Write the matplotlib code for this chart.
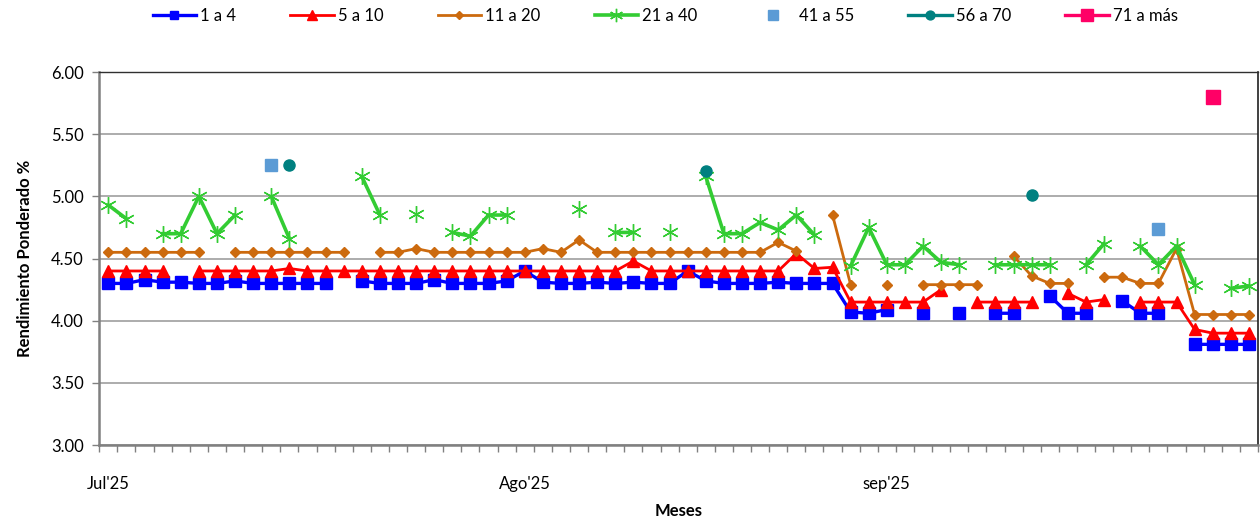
import matplotlib
matplotlib.use("Agg")
import matplotlib.pyplot as plt
import numpy as np

plt.rcParams["font.family"] = ["Lato", "DejaVu Sans"]

nan = np.nan

# 64 business days, Jul 1 to end of Sep 2025
month_labels = ["Jul'25", "Ago'25", "sep'25"]
month_pos = [0, 23, 43]

r_1a4 = [4.30, 4.30, 4.33, 4.31, 4.31, 4.30, 4.30, 4.32, 4.30, 4.30,
         4.30, 4.30, 4.30, nan, 4.32, 4.30, 4.30, 4.30, 4.33, 4.30,
         4.30, 4.30, 4.32, 4.40, 4.31, 4.30, 4.30, 4.31, 4.30, 4.31,
         4.30, 4.30, 4.40, 4.32, 4.30, 4.30, 4.30, 4.31, 4.30, 4.30,
         4.30, 4.07, 4.06, 4.09, nan, 4.06, nan, 4.06, nan, 4.06,
         4.06, nan, 4.20, 4.06, 4.06, nan, 4.16, 4.06, 4.06, nan,
         3.81, 3.81, 3.81, 3.81]

r_5a10 = [4.40, 4.40, 4.40, 4.40, nan, 4.40, 4.40, 4.40, 4.40, 4.40,
          4.42, 4.40, 4.40, 4.40, 4.40, 4.40, 4.40, 4.40, 4.40, 4.40,
          4.40, 4.40, 4.40, 4.40, 4.40, 4.40, 4.40, 4.40, 4.40, 4.48,
          4.40, 4.40, 4.40, 4.40, 4.40, 4.40, 4.40, 4.40, 4.54, 4.42,
          4.43, 4.15, 4.15, 4.15, 4.15, 4.15, 4.25, nan, 4.15, 4.15,
          4.15, 4.15, nan, 4.22, 4.15, 4.17, nan, 4.15, 4.15, 4.15,
          3.93, 3.90, 3.90, 3.90]

r_11a20 = [4.55, 4.55, 4.55, 4.55, 4.55, 4.55, nan, 4.55, 4.55, 4.55,
           4.55, 4.55, 4.55, 4.55, nan, 4.55, 4.55, 4.58, 4.55, 4.55,
           4.55, 4.55, 4.55, 4.55, 4.58, 4.55, 4.65, 4.55, 4.55, 4.55,
           4.55, 4.55, 4.55, 4.55, 4.55, 4.55, 4.55, 4.63, 4.56, nan,
           4.85, 4.29, nan, 4.29, nan, 4.29, 4.29, 4.29, 4.29, nan,
           4.52, 4.36, 4.30, 4.30, nan, 4.35, 4.35, 4.30, 4.30, 4.58,
           4.05, 4.05, 4.05, 4.05]

r_21a40 = [4.93, 4.82, nan, 4.70, 4.70, 5.00, 4.70, 4.85, nan, 5.00,
           4.66, nan, nan, nan, 5.16, 4.85, nan, 4.86, nan, 4.71,
           4.68, 4.85, 4.85, nan, nan, nan, 4.90, nan, 4.71, 4.71,
           nan, 4.71, nan, 5.16, 4.70, 4.70, 4.79, 4.73, 4.85, 4.69,
           nan, 4.44, 4.75, 4.45, 4.45, 4.60, 4.47, 4.45, nan, 4.45,
           4.45, 4.45, 4.45, nan, 4.45, 4.62, nan, 4.60, 4.45, 4.60,
           4.29, nan, 4.26, 4.28]

n_days = len(r_1a4)
r_41a55 = [nan] * n_days
r_41a55[9] = 5.25
r_41a55[58] = 4.74
r_56a70 = [nan] * n_days
r_56a70[10] = 5.25
r_56a70[33] = 5.20
r_56a70[51] = 5.01
r_71mas = [nan] * n_days
r_71mas[61] = 5.80


def plot():
    x = np.arange(n_days)
    fig = plt.figure(figsize=(12.6, 5.23), dpi=100)
    ax = fig.add_axes([0.0788, 0.149, 0.9196, 0.7133])

    ax.plot(x, r_1a4, "-s", color="#0000FF", linewidth=2.4, markersize=8, label="1 a 4")
    ax.plot(x, r_5a10, "-^", color="#FF0000", linewidth=2.0, markersize=9, label="5 a 10")
    ax.plot(x, r_11a20, "-D", color="#CC6A0E", linewidth=2.0, markersize=5.5, label="11 a 20")
    ax.plot(x, r_21a40, "-", marker=(6, 2, 0), color="#33CC33", linewidth=2.6,
            markersize=12, markeredgewidth=1.0, label="21 a 40")
    ax.plot(x, r_41a55, "s", color="#5B9BD5", markersize=9, linestyle="none", label="41 a 55")
    ax.plot(x, r_56a70, "-o", color="#008080", linewidth=2.4, markersize=8, label="56 a 70")
    ax.plot(x, r_71mas, "-s", color="#FF0066", linewidth=2.4, markersize=10, label="71 a más")

    ax.set_xlim(-0.5, n_days - 0.5)
    ax.set_ylim(3.0, 6.0)
    ax.set_yticks(np.arange(3.0, 6.01, 0.5))
    ax.set_yticklabels([f"{v:.2f}" for v in np.arange(3.0, 6.01, 0.5)], fontsize=12)
    ax.set_xticks(month_pos)
    ax.set_xticklabels(month_labels, fontsize=12)
    ax.set_xticks(np.arange(-0.5, n_days, 1), minor=True)
    ax.tick_params(axis="x", which="major", length=0, pad=22)
    ax.tick_params(axis="x", which="minor", length=5, color="#808080", width=1)
    ax.tick_params(axis="y", length=5, color="#808080", width=1, pad=6)

    ax.grid(axis="y", color="#A6A6A6", linewidth=1.3)
    ax.set_axisbelow(True)
    ax.spines["top"].set_color("#303030")
    ax.spines["top"].set_linewidth(1.0)
    ax.spines["left"].set_color("#808080")
    ax.spines["left"].set_linewidth(1.8)
    ax.spines["bottom"].set_color("#808080")
    ax.spines["bottom"].set_linewidth(1.8)
    ax.spines["right"].set_color("#202020")
    ax.spines["right"].set_linewidth(1.2)

    ax.set_ylabel("Rendimiento Ponderado %", fontsize=12, fontweight="bold", labelpad=13)
    ax.set_xlabel("Meses", fontsize=12, fontweight="bold", labelpad=8)

    fig.legend(loc="center", bbox_to_anchor=(0.528, 0.970), ncol=7, frameon=False,
               fontsize=12, markerscale=0.8, handlelength=2.6, handletextpad=0.25,
               columnspacing=3.25)

    fig.savefig("out.png", dpi=100)


if __name__ == "__main__":
    plot()
